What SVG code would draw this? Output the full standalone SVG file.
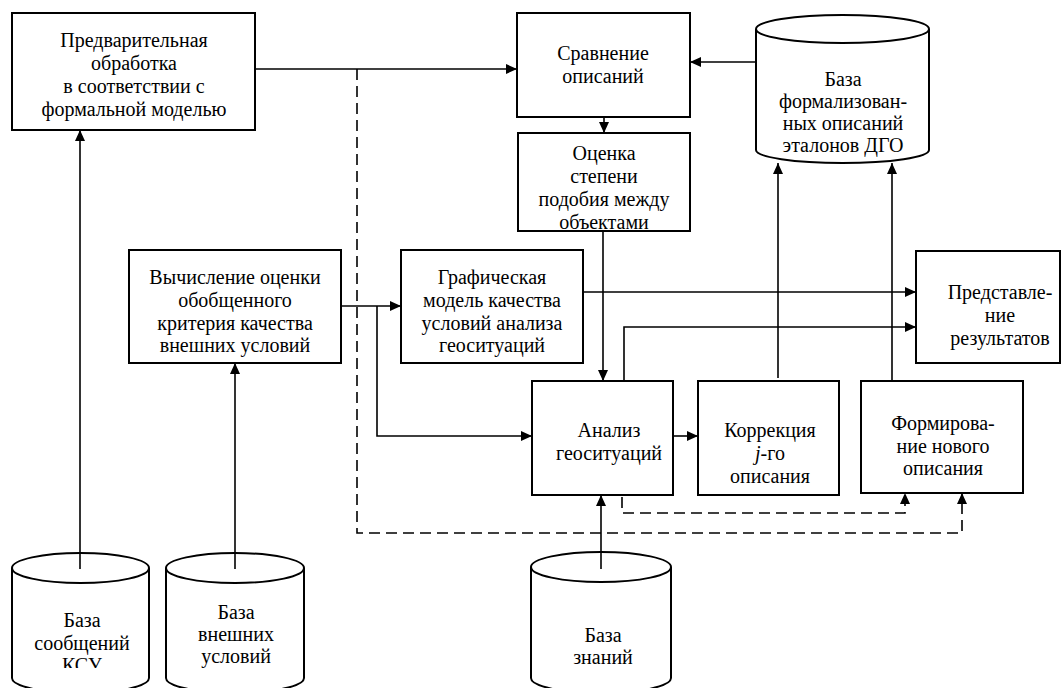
<svg xmlns="http://www.w3.org/2000/svg" width="1062" height="688" viewBox="0 0 1062 688">
<style>
.box{fill:#fff;stroke:#000;stroke-width:2}
.cyl{fill:#fff;stroke:#000;stroke-width:2}
text{font-family:'Liberation Serif','Times New Roman',serif;font-size:20px;fill:#000;text-anchor:middle}
.c{fill:none;stroke:#000;stroke-width:1.6}
.d{fill:none;stroke:#000;stroke-width:1.6;stroke-dasharray:11 6}
</style>
<defs>
<marker id="ah" markerUnits="userSpaceOnUse" markerWidth="12" markerHeight="10" refX="11" refY="5" orient="auto">
<path d="M0,0 L11,5 L0,10 Z" fill="#000"/>
</marker>
<clipPath id="ksuclip"><rect x="0" y="0" width="1062" height="668"/></clipPath>
</defs>
<rect width="1062" height="688" fill="#fff"/>

<g id="n-preproc">
<rect class="box" x="12" y="13" width="243" height="117"/>
<text x="134" y="47">Предварительная</text>
<text x="134" y="70">обработка</text>
<text x="134" y="93">в соответствии с</text>
<text x="134" y="116">формальной моделью</text>
</g>

<g id="n-compare">
<rect class="box" x="517" y="13" width="173" height="104"/>
<text x="603" y="60">Сравнение</text>
<text x="603" y="83">описаний</text>
</g>

<g id="n-estimate">
<rect class="box" x="518" y="133" width="172" height="98"/>
<text x="604" y="160">Оценка</text>
<text x="604" y="183">степени</text>
<text x="604" y="206">подобия между</text>
<text x="604" y="229">объектами</text>
</g>

<g id="n-dgo">
<path class="cyl" d="M756,29 L756,150 A86.5,13 0 0 0 929,150 L929,29"/>
<ellipse class="cyl" cx="842.5" cy="29" rx="86.5" ry="14"/>
<text x="843" y="86">База</text>
<text x="843" y="108">формализован-</text>
<text x="843" y="130">ных описаний</text>
<text x="843" y="152">эталонов ДГО</text>
</g>

<g id="n-calc">
<rect class="box" x="129" y="250" width="212" height="113"/>
<text x="235" y="284">Вычисление оценки</text>
<text x="235" y="307">обобщенного</text>
<text x="235" y="330">критерия качества</text>
<text x="235" y="352">внешних условий</text>
</g>

<g id="n-graph">
<rect class="box" x="401" y="250" width="182" height="113"/>
<text x="492" y="284">Графическая</text>
<text x="492" y="307">модель качества</text>
<text x="492" y="330">условий анализа</text>
<text x="492" y="352">геоситуаций</text>
</g>

<g id="n-present">
<rect class="box" x="916" y="251" width="144" height="112"/>
<text x="1000" y="299">Представле-</text>
<text x="1000" y="322">ние</text>
<text x="1000" y="345">результатов</text>
</g>

<g id="n-analysis">
<rect class="box" x="532" y="381" width="141" height="114"/>
<text x="609" y="437">Анализ</text>
<text x="609" y="460">геоситуаций</text>
</g>

<g id="n-correct">
<rect class="box" x="698" y="381" width="141" height="114"/>
<text x="770" y="437">Коррекция</text>
<text x="770" y="460"><tspan font-style="italic">j</tspan>-го</text>
<text x="770" y="483">описания</text>
</g>

<g id="n-newdesc">
<rect class="box" x="861" y="381" width="162" height="112"/>
<text x="943" y="430">Формирова-</text>
<text x="943" y="453">ние нового</text>
<text x="943" y="475">описания</text>
</g>

<g id="n-ksu">
<path class="cyl" d="M12,568 L12,678 A68.5,15 0 0 0 149,678 L149,568"/>
<ellipse class="cyl" cx="80.5" cy="568" rx="68.5" ry="15"/>
<text x="82" y="627">База</text>
<text x="82" y="650">сообщений</text>
<text x="82" y="672" clip-path="url(#ksuclip)">КСУ</text>
</g>

<g id="n-ext">
<path class="cyl" d="M166,568 L166,678 A69,15 0 0 0 304,678 L304,568"/>
<ellipse class="cyl" cx="235" cy="568" rx="69" ry="15"/>
<text x="236" y="619">База</text>
<text x="236" y="641">внешних</text>
<text x="236" y="663">условий</text>
</g>

<g id="n-know">
<path class="cyl" d="M531,567 L531,678 A70,15 0 0 0 671,678 L671,567"/>
<ellipse class="cyl" cx="601" cy="567" rx="70" ry="15"/>
<text x="603" y="642">База</text>
<text x="603" y="664">знаний</text>
</g>

<g id="connectors">
<path class="c" d="M255,69 L517,69" marker-end="url(#ah)"/>
<path class="d" d="M357,69 L357,533 L962,533 L962,493" marker-end="url(#ah)"/>
<path class="d" d="M622,497 L622,513 L905,513 L905,493" marker-end="url(#ah)"/>
<path class="c" d="M756,62 L690,62" marker-end="url(#ah)"/>
<path class="c" d="M604,117 L604,133" marker-end="url(#ah)"/>
<path class="c" d="M603,231 L603,381" marker-end="url(#ah)"/>
<path class="c" d="M341,306 L401,306" marker-end="url(#ah)"/>
<path class="c" d="M377,306 L377,436 L532,436" marker-end="url(#ah)"/>
<path class="c" d="M583,292 L916,292" marker-end="url(#ah)"/>
<path class="c" d="M624,381 L624,327 L916,327" marker-end="url(#ah)"/>
<path class="c" d="M778,378 L778,163" marker-end="url(#ah)"/>
<path class="c" d="M892,381 L892,163" marker-end="url(#ah)"/>
<path class="c" d="M673,436 L698,436" marker-end="url(#ah)"/>
<path class="c" d="M80,569 L80,130" marker-end="url(#ah)"/>
<path class="c" d="M235,569 L235,363" marker-end="url(#ah)"/>
<path class="c" d="M601,569 L601,495" marker-end="url(#ah)"/>
</g>
</svg>
